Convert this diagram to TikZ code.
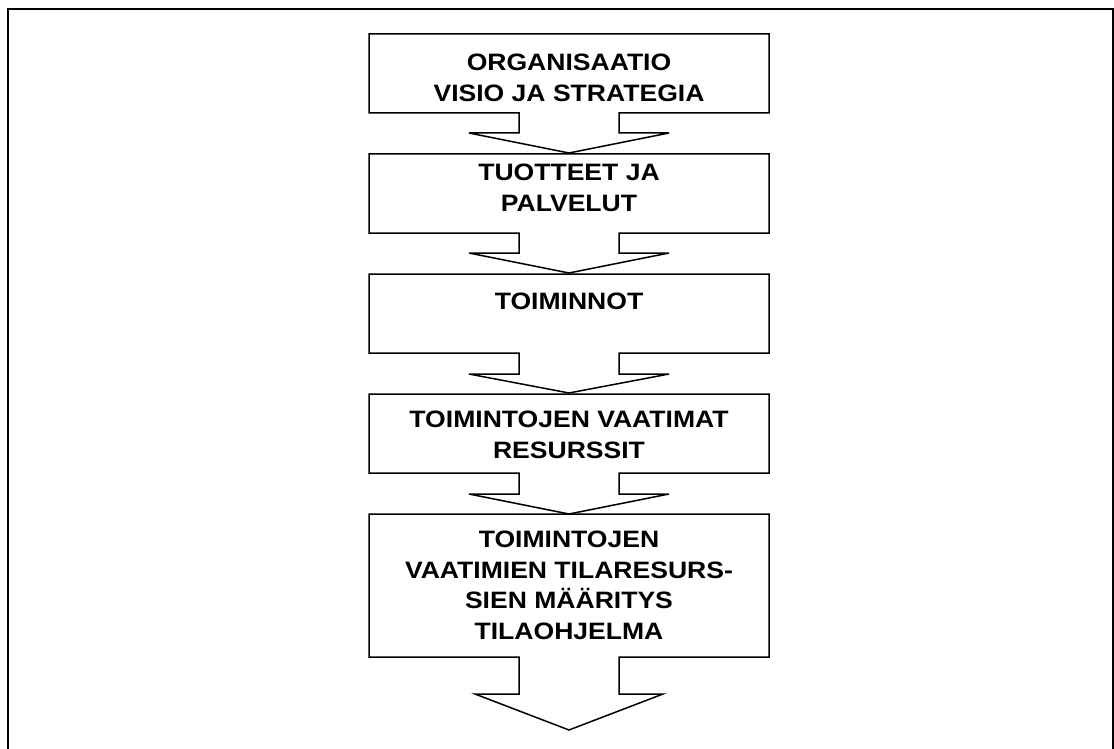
\documentclass[tikz,border=0pt]{standalone}
\usepackage{fontspec}
\newfontfamily\laatikkofont{Liberation Sans}[FakeStretch=1.12]
\begin{document}
\begin{tikzpicture}[x=1pt,y=-1pt,line join=miter]
	\tikzset{laatikko/.style={draw=black,line width=1.5pt,fill=white},
	teksti/.style={align=center,inner sep=0pt,font=\laatikkofont\bfseries\fontsize{23.7}{30.7}\selectfont}}
	\def\vasen{369}
	\def\oikea{769}
	\def\keski{569}
	\useasboundingbox(0,0)rectangle(1114,749);
	\draw[line width=2pt](8,749)--(8,9)--(1113,9)--(1113,749);
	\foreach \yla/\ala/\karki/\nuoli/\leveys in {34/113/133/153/100,154/233/253/273/100,274/353/374/393/100,394/473/494/514/100,514/657/694/730/94}
	\draw[laatikko](\vasen,\yla)--(\oikea,\yla)--(\oikea,\ala)--(\keski+50,\ala)--(\keski+50,\karki)--({\keski+\leveys},\karki)--(\keski,\nuoli)--({\keski-\leveys},\karki)--(\keski-50,\karki)--(\keski-50,\ala)--(\vasen,\ala)--cycle;
	\node[teksti](org)at(\keski,78){ORGANISAATIO\\VISIO JA STRATEGIA};
	\node[teksti](tuotteet)at(\keski,187.5){TUOTTEET JA\\PALVELUT};
	\node[teksti](toiminnot)at(\keski,301){TOIMINNOT};
	\node[teksti](resurssit)at(\keski,434.5){TOIMINTOJEN VAATIMAT\\RESURSSIT};
	\node[teksti](tilaohjelma)at(\keski,585.3){TOIMINTOJEN\\VAATIMIEN TILARESURS-\\SIEN MÄÄRITYS\\TILAOHJELMA};
\end{tikzpicture}
\end{document}
